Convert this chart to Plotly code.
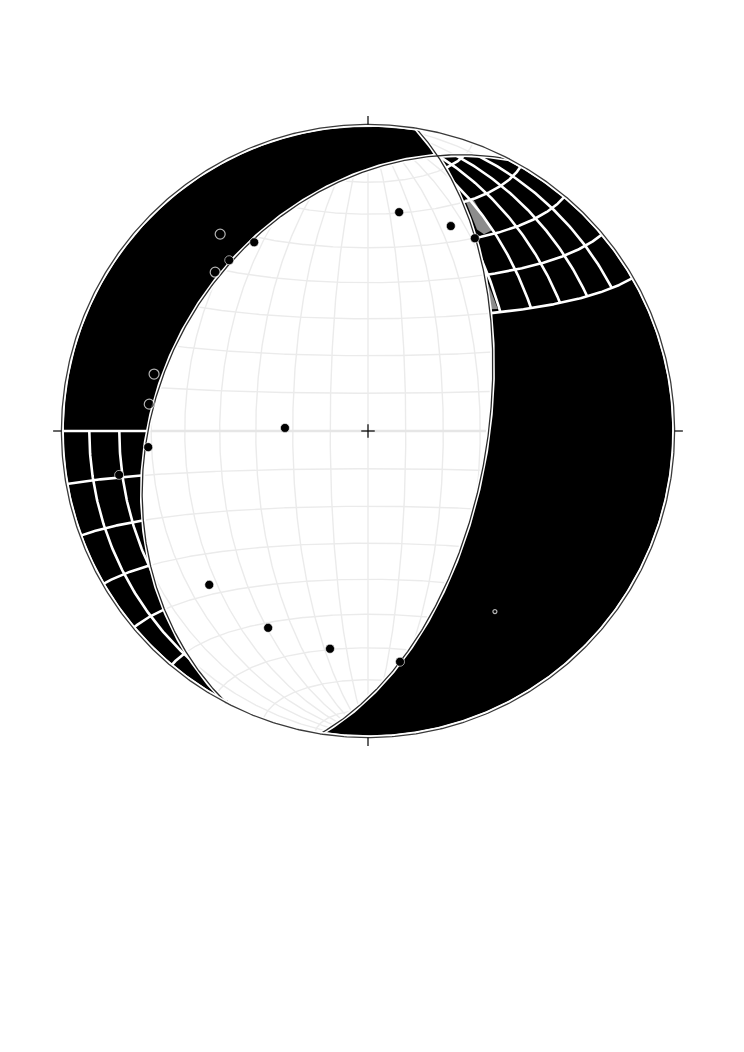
import numpy as np
import plotly.graph_objects as go

# ---------------- data ----------------
# nodal planes (strike, dip) - right-hand rule
plane_strike = [207.5, 9.0]
plane_dip = [32.0, 58.0]

# compressional (filled) first motions: trend / plunge (deg)
comp_trend = [8.1, 22.0, 29.0, 328.9, 320.9, 272.1, 265.8, 260.0, 225.9, 206.9, 189.9, 172.1]
comp_plunge = [28.7, 28.7, 28.9, 28.9, 29.0, 67.9, 28.9, 18.7, 28.7, 28.8, 28.7, 25.0]

# open-circle first motions
open_trend = [323.1, 316.1, 284.9, 277.0, 144.9]
open_plunge = [20.8, 28.9, 28.6, 28.9, 28.8]
open_size = [10, 10, 10, 10, 4]

# gray (uncertain) zones: trend / plunge outline
gray1_trend = [22.7, 24.6, 31.7, 30.5, 28.4]
gray1_plunge = [19.2, 18.3, 24.1, 26.4, 26.2]
gray2_trend = [39.0, 46.8, 45.2]
gray2_plunge = [37.9, 41.5, 43.0]

grid_interval = 10          # degrees
ne_min_lat = 30             # NE white-mesh limit (deg latitude)

# ---------------- helpers ----------------
def to_xy(v):
    v = np.atleast_2d(v)
    N, E, D = v[:, 0], v[:, 1], v[:, 2]
    s = np.sqrt(1.0 + D)
    return E / s, N / s

def line_vec(trend, plunge):
    t = np.radians(np.asarray(trend, float))
    p = np.radians(np.asarray(plunge, float))
    return np.stack([np.cos(p) * np.cos(t), np.cos(p) * np.sin(t), np.sin(p)], axis=-1)

def plane_basis(strike, dip):
    s = np.radians(strike); d = np.radians(dip)
    sv = np.array([np.cos(s), np.sin(s), 0.0])
    dv = np.array([np.cos(d) * np.cos(s + np.pi / 2), np.cos(d) * np.sin(s + np.pi / 2), np.sin(d)])
    return sv, dv

def plane_arc(strike, dip, l0, l1, n=300):
    sv, dv = plane_basis(strike, dip)
    lam = np.radians(np.linspace(l0, l1, n))
    return np.cos(lam)[:, None] * sv + np.sin(lam)[:, None] * dv

def prim_arc(a0, a1, rr=1.0, n=300):
    a = np.radians(np.linspace(a0, a1, n))
    return rr * np.sin(a), rr * np.cos(a)

# plane normals, null axis
svA, dvA = plane_basis(plane_strike[0], plane_dip[0])
svB, dvB = plane_basis(plane_strike[1], plane_dip[1])
nA = np.cross(svA, dvA)
nB = np.cross(svB, dvB)
nul = np.cross(nA, nB)
nul /= np.linalg.norm(nul)
if nul[2] < 0:
    nul = -nul
lamA = np.degrees(np.arctan2(nul @ dvA, nul @ svA)) % 180
lamB = np.degrees(np.arctan2(nul @ dvB, nul @ svB)) % 180

west_v = np.array([0.0, -1.0, 0.02])
east_v = np.array([0.0, 1.0, 0.02])

def beyond_A(v):   # west crescent side of plane A
    return np.sign(v @ nA) == np.sign(west_v @ nA)

def beyond_B(v):   # east crescent side of plane B
    return np.sign(v @ nB) == np.sign(east_v @ nB)

# ---------------- grid lines (Schmidt net) ----------------
grid_lines = []
lam = np.radians(np.linspace(0, 180, 361))
sv0 = np.array([1.0, 0.0, 0.0])
for dip in range(grid_interval, 91, grid_interval):
    d = np.radians(dip)
    for side in ([1, -1] if dip < 90 else [1]):
        dv = np.array([0.0, side * np.cos(d), np.sin(d)])
        grid_lines.append(np.cos(lam)[:, None] * sv0 + np.sin(lam)[:, None] * dv)
phi = np.radians(np.linspace(0, 180, 361))
def small_circle(alpha):
    a = np.radians(alpha)
    return np.stack([np.full_like(phi, np.cos(a)), np.sin(a) * np.cos(phi), np.sin(a) * np.sin(phi)], axis=-1)
for alpha in range(grid_interval, 180, grid_interval):
    grid_lines.append(small_circle(alpha))

def join_lines(lines, mask_fn=None):
    xs, ys = [], []
    for v in lines:
        x, y = to_xy(v)
        m = np.ones(len(x), bool) if mask_fn is None else mask_fn(v)
        for xi, yi, mi in zip(x, y, m):
            if mi:
                xs.append(float(xi)); ys.append(float(yi))
            else:
                if xs and xs[-1] is not None:
                    xs.append(None); ys.append(None)
        xs.append(None); ys.append(None)
    return xs, ys

def mesh_mask(v):
    N, E = v[:, 0], v[:, 1]
    wA = beyond_A(v); eB = beyond_B(v)
    sw = wA & ~eB & (E < 0) & (N <= 1e-6)
    ne = eB & ~wA & (E > 0) & (N >= np.sin(np.radians(ne_min_lat)) - 1e-6)
    return sw | ne

fig = go.Figure()

gx, gy = join_lines(grid_lines)
fig.add_trace(go.Scatter(x=gx, y=gy, mode="lines", line=dict(color="#ebebeb", width=1.4), hoverinfo="skip"))
ex, ey = join_lines([small_circle(90)])
fig.add_trace(go.Scatter(x=ex, y=ey, mode="lines", line=dict(color="#e6e6e6", width=2.6), hoverinfo="skip"))

# ---------------- black quadrants ----------------
inset = 0.992
vB = plane_arc(plane_strike[1], plane_dip[1], 0, lamB)
vA = plane_arc(plane_strike[0], plane_dip[0], lamA, 0)
bx, by = to_xy(vB); ax_, ay_ = to_xy(vA)
px, py = prim_arc(plane_strike[0], plane_strike[1] + 360, inset)
wx = np.concatenate([bx, ax_, px]); wy = np.concatenate([by, ay_, py])
fig.add_trace(go.Scatter(x=wx, y=wy, mode="lines", fill="toself", fillcolor="black",
                         line=dict(width=0, color="black"), hoverinfo="skip"))

vA2 = plane_arc(plane_strike[0], plane_dip[0], 180, lamA)
vB2 = plane_arc(plane_strike[1], plane_dip[1], lamB, 180)
a2x, a2y = to_xy(vA2); b2x, b2y = to_xy(vB2)
p2x, p2y = prim_arc(plane_strike[1] + 180, plane_strike[0] - 180, inset)
e_x = np.concatenate([a2x, b2x, p2x]); e_y = np.concatenate([a2y, b2y, p2y])
fig.add_trace(go.Scatter(x=e_x, y=e_y, mode="lines", fill="toself", fillcolor="black",
                         line=dict(width=0, color="black"), hoverinfo="skip"))

# gray zones
for tr, pl in [(gray1_trend, gray1_plunge), (gray2_trend, gray2_plunge)]:
    gx1, gy1 = to_xy(line_vec(tr, pl))
    fig.add_trace(go.Scatter(x=list(gx1) + [gx1[0]], y=list(gy1) + [gy1[0]], mode="lines",
                             fill="toself", fillcolor="#8c8c8c", line=dict(width=0, color="#8c8c8c"),
                             hoverinfo="skip"))

# white mesh over parts of the black quadrants
mx, my = join_lines(grid_lines, mesh_mask)
fig.add_trace(go.Scatter(x=mx, y=my, mode="lines", line=dict(color="white", width=2.6), hoverinfo="skip"))

# ---------------- nodal planes ----------------
for st, dp in zip(plane_strike, plane_dip):
    v = plane_arc(st, dp, 0, 180, 400)
    x, y = to_xy(v)
    fig.add_trace(go.Scatter(x=x, y=y, mode="lines", line=dict(color="white", width=4.5), hoverinfo="skip"))
for st, dp in zip(plane_strike, plane_dip):
    v = plane_arc(st, dp, 0, 180, 400)
    x, y = to_xy(v)
    fig.add_trace(go.Scatter(x=x, y=y, mode="lines", line=dict(color="#2b2b2b", width=1.3), hoverinfo="skip"))

# primitive circle with white inner gap
cx, cy = prim_arc(0, 360, 0.9965, 721)
fig.add_trace(go.Scatter(x=cx, y=cy, mode="lines", line=dict(color="white", width=2.2), hoverinfo="skip"))
cx, cy = prim_arc(0, 360, 1.0, 721)
fig.add_trace(go.Scatter(x=cx, y=cy, mode="lines", line=dict(color="#3a3a3a", width=1.3), hoverinfo="skip"))

# ticks and centre cross
tick_len = 0.027
cross = 0.022
tx = [0, 0, None, 0, 0, None, 1, 1 + tick_len, None, -1, -1 - tick_len, None, -cross, cross, None, 0, 0]
ty = [1, 1 + tick_len, None, -1, -1 - tick_len, None, 0, 0, None, 0, 0, None, 0, 0, None, -cross, cross]
fig.add_trace(go.Scatter(x=tx, y=ty, mode="lines", line=dict(color="black", width=1.2), hoverinfo="skip",
                         cliponaxis=False))

# ---------------- observations ----------------
ox, oy = to_xy(line_vec(open_trend, open_plunge))
fig.add_trace(go.Scatter(x=ox, y=oy, mode="markers",
                         marker=dict(size=open_size, color="black", line=dict(color="white", width=1.2)),
                         hoverinfo="skip"))
cx_, cy_ = to_xy(line_vec(comp_trend, comp_plunge))
fig.add_trace(go.Scatter(x=cx_, y=cy_, mode="markers",
                         marker=dict(size=9, color="black", line=dict(color="white", width=0.6)),
                         hoverinfo="skip"))

rng = 1.06
R_px = 307.0
cxp, cyp = 360.0, 423.0     # page has an 8px body margin
half = rng * R_px
fig.update_layout(
    width=744, height=1052,
    margin=dict(l=cxp - half, r=744 - (cxp + half), t=cyp - half, b=1052 - (cyp + half), pad=0),
    paper_bgcolor="white", plot_bgcolor="white", showlegend=False,
    xaxis=dict(range=[-rng, rng], visible=False, showgrid=False, zeroline=False, fixedrange=True),
    yaxis=dict(range=[-rng, rng], visible=False, showgrid=False, zeroline=False, fixedrange=True),
)
fig.write_html("out.html")
